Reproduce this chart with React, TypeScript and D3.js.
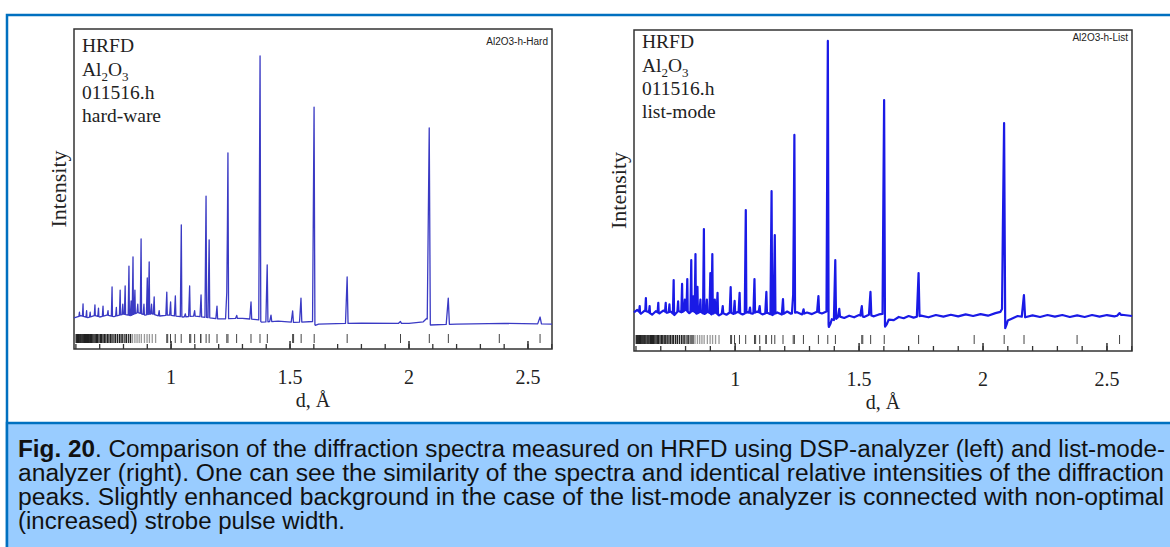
import React from 'react';
import * as d3 from 'd3';

// reflection positions (d, Å) shown as the tick row under each spectrum
const reflDense = [0.601, 0.604, 0.607, 0.611, 0.614, 0.618, 0.621, 0.625, 0.629, 0.633, 0.636, 0.640, 0.645, 0.649, 0.653,
  0.658, 0.662, 0.666, 0.671, 0.676, 0.681, 0.686, 0.691, 0.697, 0.703, 0.708, 0.714, 0.720, 0.726, 0.733, 0.739,
  0.746, 0.752, 0.760, 0.767, 0.775, 0.783, 0.790, 0.797, 0.806, 0.813, 0.822, 0.830];
const reflGray = [0.838, 0.848, 0.857, 0.866, 0.875, 0.888, 0.899, 0.909, 0.921, 0.935];
const reflMain = [0.9819, 0.9857, 0.9976, 1.0175, 1.0426, 1.0781, 1.0826, 1.0990, 1.1238, 1.1257, 1.1472, 1.1600,
  1.1931, 1.2343, 1.2391, 1.2755, 1.3359, 1.3737, 1.4045, 1.5109, 1.5149, 1.5467, 1.6015, 1.7401, 1.9643,
  2.0853, 2.1654, 2.3795, 2.5508];

// background level, [d, intensity]
const bgHard: [number, number][] = [[0.592, 9.7], [0.62, 10.4], [0.65, 9.8], [0.68, 10.5], [0.7, 10.0], [0.73, 10.6],
  [0.76, 10.1], [0.8, 10.9], [0.83, 10.4], [0.86, 11.4], [0.89, 10.6], [0.92, 11.0], [0.95, 10.3], [0.99, 10.6],
  [1.05, 10.0], [1.1, 10.3], [1.2, 9.4], [1.3, 9.6], [1.37, 9.1], [1.38, 8.4], [1.45, 8.7], [1.52, 8.3],
  [1.598, 8.6], [1.606, 7.4], [1.62, 7.8], [1.8, 8.1], [2.0, 8.0], [2.06, 8.5], [2.075, 9.6], [2.09, 7.5],
  [2.2, 7.8], [2.4, 8.0], [2.601, 7.8]];
const bgList: [number, number][] = [[0.592, 12.0], [0.605, 12.8], [0.62, 11.6], [0.635, 12.6], [0.65, 12.2], [0.665, 11.3],
  [0.68, 12.4], [0.695, 11.7], [0.71, 12.6], [0.725, 11.9], [0.74, 12.3], [0.755, 11.2], [0.77, 12.5], [0.785, 12.0],
  [0.8, 12.9], [0.815, 11.8], [0.83, 12.6], [0.845, 11.6], [0.86, 12.3], [0.875, 11.5], [0.89, 12.2], [0.905, 11.4],
  [0.92, 12.0], [0.935, 11.1], [0.95, 11.8], [0.965, 11.3], [0.98, 12.1], [0.995, 11.5], [1.01, 12.2], [1.03, 11.4],
  [1.05, 12.1], [1.07, 11.6], [1.09, 12.3], [1.11, 11.4], [1.13, 11.9], [1.15, 11.2], [1.17, 12.0], [1.19, 11.3],
  [1.21, 12.3], [1.225, 11.6], [1.25, 12.1], [1.27, 11.4], [1.29, 12.0], [1.31, 11.5], [1.33, 12.2], [1.35, 11.7],
  [1.372, 12.4], [1.378, 7.5], [1.385, 8.6], [1.39, 9.9], [1.40, 9.6], [1.42, 10.8], [1.44, 10.3], [1.46, 11.0],
  [1.48, 10.5], [1.50, 11.2], [1.52, 10.6], [1.54, 11.3], [1.56, 10.8], [1.58, 11.4], [1.598, 11.6], [1.605, 7.6],
  [1.612, 8.4], [1.62, 9.8], [1.64, 9.6], [1.66, 10.6], [1.68, 10.2], [1.70, 10.9], [1.72, 10.4], [1.75, 11.0],
  [1.78, 10.5], [1.81, 11.2], [1.84, 10.7], [1.87, 11.3], [1.90, 10.8], [1.93, 11.4], [1.96, 10.9], [1.99, 11.5],
  [2.02, 11.0], [2.05, 11.8], [2.07, 12.2], [2.08, 13.5], [2.089, 7.0], [2.095, 8.2], [2.1, 9.5], [2.12, 10.2],
  [2.14, 10.9], [2.17, 10.5], [2.2, 11.1], [2.23, 10.6], [2.26, 11.2], [2.29, 10.7], [2.32, 11.2], [2.35, 10.6],
  [2.38, 11.1], [2.41, 10.6], [2.44, 11.2], [2.47, 10.7], [2.5, 11.2], [2.53, 10.8], [2.56, 11.3], [2.601, 10.9]];

// peaks, [d, top intensity]
const peaksHard: [number, number][] = [[0.615, 11.5], [0.63, 14.1], [0.645, 12], [0.66, 11.5], [0.68, 13.8], [0.695, 12.8],
  [0.714, 13.4], [0.735, 12.0], [0.752, 19.4], [0.77, 13], [0.786, 18.4], [0.797, 14], [0.807, 19.7], [0.823, 25.9],
  [0.832, 15], [0.840, 28.8], [0.848, 18.4], [0.86, 14], [0.874, 34.4], [0.886, 14], [0.900, 22.2], [0.908, 27.2],
  [0.918, 14], [0.929, 16.3], [0.95, 12], [0.982, 17.8], [0.998, 14.7], [1.018, 16.6], [1.043, 38.8], [1.06, 11],
  [1.078, 19.7], [1.099, 12], [1.126, 16.9], [1.147, 47.8], [1.160, 34.1], [1.193, 13.4], [1.234, 17.5],
  [1.239, 61.3], [1.276, 10.5], [1.336, 14.7], [1.374, 91.6], [1.404, 26.3], [1.42, 10.6], [1.511, 11.9],
  [1.546, 15.9], [1.601, 75.6], [1.740, 22.5], [1.964, 8.6], [2.085, 69.1], [2.165, 15.9], [2.551, 10]];
const peaksList: [number, number][] = [[0.615, 14], [0.64, 16.5], [0.655, 14], [0.69, 15], [0.72, 15], [0.735, 14.5],
  [0.752, 22.1], [0.77, 15.5], [0.786, 20.9], [0.797, 16], [0.807, 22.4], [0.823, 28.3], [0.832, 17], [0.840, 30.2],
  [0.848, 20], [0.86, 16], [0.874, 38], [0.886, 16], [0.900, 24.3], [0.908, 30.2], [0.918, 16], [0.929, 18.1],
  [0.95, 14], [0.982, 19.9], [0.998, 15.6], [1.018, 18.1], [1.043, 43.9], [1.06, 13.5], [1.078, 22.4], [1.099, 14],
  [1.126, 18.4], [1.147, 49.8], [1.160, 36.1], [1.193, 16.2], [1.234, 17.4], [1.239, 67.3], [1.276, 13],
  [1.336, 17.1], [1.374, 96.6], [1.404, 28.3], [1.42, 13.1], [1.511, 14], [1.546, 18.4], [1.601, 78.2],
  [1.740, 24.3], [2.085, 71], [2.165, 17.4], [2.551, 11.8]];

const majorTicks = [1, 1.5, 2, 2.5];
const tickLabels = ['1', '1.5', '2', '2.5'];
const minorTicks = d3.range(6, 27).map(i => i / 10);

const captionLines = [
  'analyzer (right). One can see the similarity of the spectra and identical relative intensities of the diffraction',
  'peaks. Slightly enhanced background in the case of the list-mode analyzer is connected with non-optimal',
  '(increased) strobe pulse width.',
];
const captionWidths = [1146, 1146, 327];

const serif = '"Liberation Serif", "Times New Roman", serif';
const sans = '"Liberation Sans", Arial, sans-serif';

function spectrum(bg: [number, number][], peaks: [number, number][]) {
  const bgAt = d3.scaleLinear().domain(bg.map(p => p[0])).range(bg.map(p => p[1])).clamp(true);
  const pts = new Set<number>(bg.map(p => p[0]));
  peaks.forEach(([d0]) => { pts.add(d0 - 0.004 * d0); pts.add(d0); pts.add(d0 + 0.0022 * d0) });
  const amps = peaks.map(([d0, top]) => [d0, top - bgAt(d0)]);
  return Array.from(pts).sort((a, b) => a - b).map(d => {
    let v = bgAt(d);
    amps.forEach(([d0, h]) => {
      const w = d < d0 ? 0.004 * d0 : 0.0022 * d0;
      const t = 1 - Math.abs(d - d0) / w;
      if (t > 0) v += h * t;
    });
    return [d, v] as [number, number];
  });
}

type PanelProps = {
  left: number; right: number; top: number; bottom: number;
  bg: [number, number][]; peaks: [number, number][];
  color: string; sw: number; tag: string; tagY: number;
  mode: string; textY: number; tickRow: [number, number];
};

function Panel(p: PanelProps) {
  const x = d3.scaleLinear().domain([0.592, 2.601]).range([p.left, p.right]);
  const y = d3.scaleLinear().domain([0, 100]).range([p.bottom, p.top]);
  const line = d3.line<[number, number]>().x(d => x(d[0])).y(d => y(d[1]));
  const data = spectrum(p.bg, p.peaks);
  const tx = p.left + 8;
  return (
    <g>
      <rect x={p.left} y={p.top} width={p.right - p.left} height={p.bottom - p.top} fill="white" stroke="#333" strokeWidth={1.5} />
      <path d={line(data) || ''} fill="none" stroke={p.color} strokeWidth={p.sw} strokeLinejoin="round" />
      {reflDense.map((d, i) => <line key={'a' + i} x1={x(d)} x2={x(d)} y1={p.tickRow[0]} y2={p.tickRow[1]} stroke="#222" strokeWidth={1.3} />)}
      {reflGray.map((d, i) => <line key={'b' + i} x1={x(d)} x2={x(d)} y1={p.tickRow[0]} y2={p.tickRow[1]} stroke="#999" strokeWidth={1.3} />)}
      {reflMain.map((d, i) => <line key={'c' + i} x1={x(d)} x2={x(d)} y1={p.tickRow[0]} y2={p.tickRow[1]} stroke="#444" strokeWidth={1} />)}
      {minorTicks.map((d, i) => <line key={'m' + i} x1={x(d)} x2={x(d)} y1={p.bottom} y2={p.bottom - 5} stroke="#333" strokeWidth={1.3} />)}
      {majorTicks.map((d, i) => <line key={'M' + i} x1={x(d)} x2={x(d)} y1={p.bottom} y2={p.bottom - 8} stroke="#333" strokeWidth={1.5} />)}
      {majorTicks.map((d, i) => <text key={'l' + i} x={x(d)} y={p.bottom + 35} textAnchor="middle" fontFamily={serif} fontSize={20} fill="#222">{tickLabels[i]}</text>)}
      <text x={(p.left + p.right) / 2} y={p.bottom + 58} textAnchor="middle" fontFamily={serif} fontSize={20} fill="#222">d, Å</text>
      <text transform={`translate(${p.left - 8},${(p.top + p.bottom) / 2}) rotate(-90)`} textAnchor="middle" fontFamily={serif} fontSize={22} fill="#222">Intensity</text>
      <text x={p.right - 4} y={p.tagY} textAnchor="end" fontFamily={sans} fontSize={10} fill="#222">{p.tag}</text>
      <g fontFamily={serif} fontSize={19.5} fill="#222">
        <text x={tx} y={p.textY}>HRFD</text>
        <text x={tx} y={p.textY + 23.5}>Al<tspan fontSize={13} dy={5}>2</tspan><tspan dy={-5}>O</tspan><tspan fontSize={13} dy={5}>3</tspan></text>
        <text x={tx} y={p.textY + 47}>011516.h</text>
        <text x={tx} y={p.textY + 70}>{p.mode}</text>
      </g>
    </g>
  );
}

export default function App() {
  return (
    <svg width={1170} height={547} style={{ position: 'absolute', left: 0, top: 0 }}>
      <rect x={0} y={0} width={1170} height={547} fill="white" />
      <rect x={7} y={15} width={1175} height={540} fill="white" stroke="#0070C0" strokeWidth={2.5} />
      <Panel left={74} right={552} top={29} bottom={349} bg={bgHard} peaks={peaksHard} color="#3a3ac4" sw={1.3}
        tag="Al2O3-h-Hard" tagY={45} mode="hard-ware" textY={52} tickRow={[334, 343]} />
      <Panel left={634} right={1132} top={30} bottom={351} bg={bgList} peaks={peaksList} color="#1a1ae6" sw={2.2}
        tag="Al2O3-h-List" tagY={41} mode="list-mode" textY={48} tickRow={[335, 344]} />
      <rect x={7} y={423} width={1175} height={130} fill="#99CCFF" stroke="#0070C0" strokeWidth={2.5} />
      <g fontFamily={sans} fontSize={23.5} fill="#111">
        <text x={18} y={457} textLength={1147} lengthAdjust="spacingAndGlyphs"><tspan fontWeight="bold">Fig. 20</tspan>. Comparison of the diffraction spectra measured on HRFD using DSP-analyzer (left) and list-mode-</text>
        {captionLines.map((t, i) => (
          <text key={i} x={18} y={481 + i * 24} textLength={captionWidths[i]} lengthAdjust="spacingAndGlyphs">{t}</text>
        ))}
      </g>
    </svg>
  );
}
